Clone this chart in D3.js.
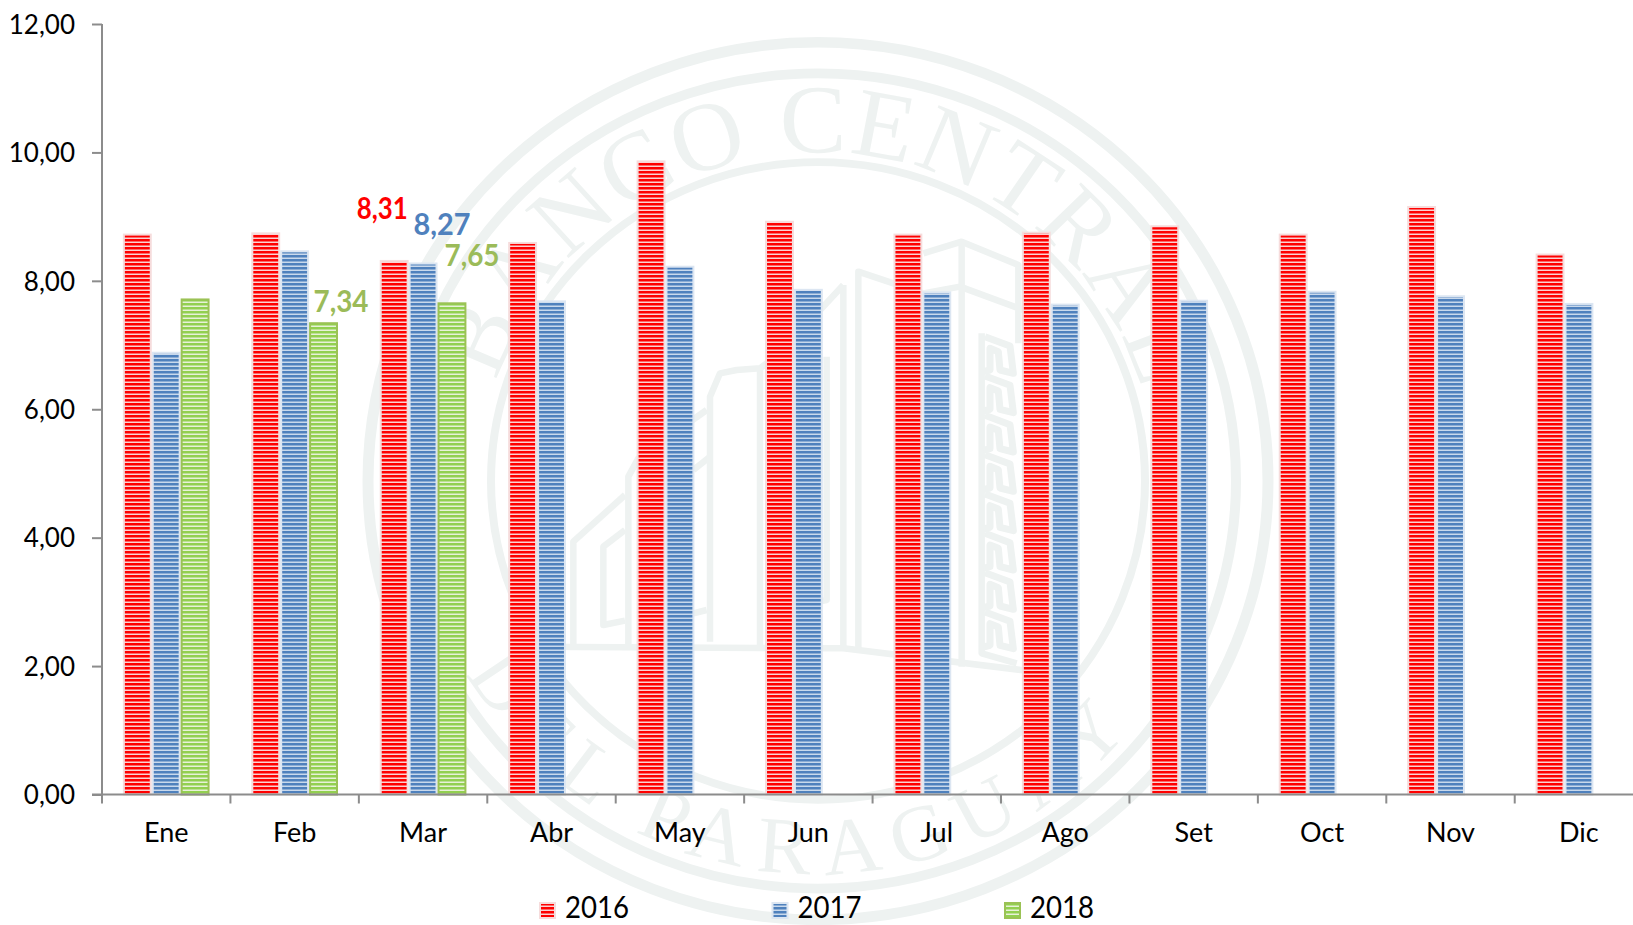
<!DOCTYPE html>
<html>
<head>
<meta charset="utf-8">
<script src="https://cdn.jsdelivr.net/npm/d3@7/dist/d3.min.js"></script>
<style>
html,body{margin:0;padding:0;background:#fff;overflow:hidden}
svg{display:block}
text{font-family:Lato,"Noto Sans",sans-serif;fill:#000}
</style>
</head>
<body>
<div id="chart"></div>
<script>
const months = ["Ene","Feb","Mar","Abr","May","Jun","Jul","Ago","Set","Oct","Nov","Dic"];
const years = ["2016","2017","2018"];
const values2016 = [8.72,8.74,8.31,8.59,9.86,8.92,8.72,8.75,8.85,8.72,9.15,8.41];
const values2017 = [6.88,8.46,8.27,7.68,8.22,7.86,7.82,7.63,7.69,7.83,7.76,7.64];
const values2018 = [7.71,7.34,7.65];
const yTicks = [0,2,4,6,8,10,12];
const labelled = [
  {year:"2016", month:"Mar", value:8.31, dx:-12, dy:-42, len:51, color:"#ff0000"},
  {year:"2017", month:"Mar", value:8.27, dx:19, dy:-28, len:57, color:"#4f81bd"},
  {year:"2018", month:"Mar", value:7.65, dx:20, dy:-37, len:55, color:"#9bbb59"},
  {year:"2018", month:"Feb", value:7.34, dx:17.5, dy:-11, len:55, color:"#9bbb59"}
];

const W = 1633, H = 925;
const svg = d3.select("#chart").append("svg").attr("width",W).attr("height",H);
svg.append("rect").attr("width",W).attr("height",H).attr("fill","#fff");

const styles = {
  "2016":{stripe:"#ff0000",gap:"#f9d3d3",edge:"#f6dcdc"},
  "2017":{stripe:"#4f81bd",gap:"#c9d9ec",edge:"#dce6f2"},
  "2018":{stripe:"#92d050",gap:"#e8f1d8",edge:"#9bc255"}
};
const defs = svg.append("defs");
years.forEach(y=>{
  const p = defs.append("pattern").attr("id","p"+y).attr("patternUnits","userSpaceOnUse")
    .attr("width",8).attr("height",4).attr("y",-1);
  p.append("rect").attr("width",8).attr("height",4).attr("fill",styles[y].gap);
  p.append("rect").attr("width",8).attr("height",2.5).attr("fill",styles[y].stripe);
});

/* ---------- watermark seal ---------- */
const wm = "#eef2f1";
const seal = svg.append("g").attr("class","seal").attr("transform","translate(818,481) scale(1,0.975)");
[[450,11],[418,10],[327,8]].forEach(([r,w])=>{
  seal.append("circle").attr("r",r)
    .attr("fill","none").attr("stroke",wm).attr("stroke-width",w);
});
const arcPt = (r,deg)=>{const a=deg*Math.PI/180;return [r*Math.sin(a),-r*Math.cos(a)];};
defs.append("path").attr("id","arcTop")
  .attr("d",`M${arcPt(337,-99)}A337,337 0 1 1 ${arcPt(337,101)}`);
defs.append("path").attr("id","arcBot")
  .attr("d",`M${arcPt(403,-101)}A403,403 0 0 0 ${arcPt(403,109)}`);
const sealText = (id,str,size,ls)=>{
  seal.append("text").attr("font-size",size).attr("letter-spacing",ls)
    .style("font-family","'Liberation Serif',serif").style("fill",wm)
    .attr("text-anchor","middle")
    .append("textPath").attr("href","#"+id).attr("startOffset","50%").text(str);
};
sealText("arcTop","BANCO CENTRAL",100,2);
sealText("arcBot","DEL PARAGUAY",82,15);

const bx = v=>560+v/3, by = v=>230+v/3;
const buildLine = d3.line().x(d=>bx(d[0])).y(d=>by(d[1]));
const buildingStrokes = [
  [[-100,1250],[850,1255],[1400,1322]],
  [[40,1245],[40,935],[195,795]],
  [[195,900],[130,950],[130,1185],[195,1172]],
  [[205,1245],[205,740],[235,685],[440,540]],
  [[400,720],[450,680]],
  [[450,1235],[450,500],[480,430],[530,420],[600,415],[660,370],[850,165]],
  [[600,1245],[600,420]],
  [[400,1150],[440,1140]],
  [[800,380],[800,1110],[760,1118]],
  [[850,165],[850,1260]],
  [[895,1260],[895,125],[1090,190],[1200,170],[1390,240]],
  [[1090,70],[1205,35],[1375,105],[1375,340]],
  [[1205,35],[1205,1310]],
  [[1265,310],[1265,1270],[1370,1300]]
];
buildingStrokes.forEach(s=>svg.append("path").attr("d",buildLine(s))
  .attr("fill","none").attr("stroke",wm).attr("stroke-width",6.5).attr("stroke-linejoin","round"));
d3.range(320,1240,118).forEach(t=>{
  svg.append("path").attr("d",buildLine([[1275,t],[1350,t+28],[1360,t+110],[1320,t+100],[1315,t+45],[1290,t+35],[1290,t+100],[1270,t+105]]))
    .attr("fill","none").attr("stroke",wm).attr("stroke-width",7).attr("stroke-linejoin","round");
});

/* ---------- scales ---------- */
const axisX = 102, step = 128.43;
const x0 = d3.scaleBand().domain(months).range([axisX,axisX+step*12])
  .paddingInner(0.325).paddingOuter(0.1625);
const x1 = d3.scaleBand().domain(years).range([0,x0.bandwidth()]);
const y = d3.scaleLinear().domain([0,12]).range([794.5,24]);

/* ---------- bars ---------- */
const series = {"2016":values2016,"2017":values2017,"2018":values2018};
years.forEach(yr=>{
  svg.append("g").selectAll("rect").data(series[yr]).join("rect")
    .attr("x",(d,i)=>x0(months[i])+x1(yr)+1)
    .attr("y",d=>y(d))
    .attr("width",x1.bandwidth()-2)
    .attr("height",d=>y(0)-y(d))
    .attr("fill",`url(#p${yr})`)
    .attr("stroke",styles[yr].edge).attr("stroke-width",2);
});

/* ---------- axes ---------- */
const axisColor = "#8c8c8c";
const fmt = d=>d3.format(".2f")(d).replace(".",",");
const gy = svg.append("g").attr("transform",`translate(${axisX},0)`)
  .call(d3.axisLeft(y).tickValues(yTicks).tickSize(10).tickPadding(17).tickFormat(fmt));
gy.selectAll("path,line").attr("stroke",axisColor).attr("stroke-width",2);
gy.select(".domain").attr("d",`M0,${y(12)}V${y(0)}`);
gy.selectAll("text").attr("font-size",26).attr("y",1).style("font-family","Lato,sans-serif").attr("fill","#000");

const gx = svg.append("g").attr("transform",`translate(0,${y(0)})`);
gx.append("line").attr("x1",axisX-10).attr("x2",W).attr("stroke",axisColor).attr("stroke-width",2);
gx.selectAll(".tk").data(d3.range(0,13)).join("line").attr("class","tk")
  .attr("x1",i=>axisX+i*step).attr("x2",i=>axisX+i*step)
  .attr("y1",0).attr("y2",9).attr("stroke",axisColor).attr("stroke-width",2);
gx.selectAll(".lb").data(months).join("text").attr("class","lb")
  .attr("x",d=>x0(d)+x0.bandwidth()/2).attr("y",47)
  .attr("text-anchor","middle").attr("font-size",27).text(d=>d);

/* ---------- data labels ---------- */
svg.append("g").selectAll("text").data(labelled).join("text")
  .attr("x",d=>x0(d.month)+x1(d.year)+x1.bandwidth()/2+d.dx)
  .attr("y",d=>y(d.value)+d.dy)
  .attr("text-anchor","middle")
  .attr("font-size",30).attr("font-weight",700)
  .attr("textLength",d=>d.len).attr("lengthAdjust","spacingAndGlyphs")
  .style("fill",d=>d.color)
  .text(d=>d.value.toFixed(2).replace(".",","));

/* ---------- legend ---------- */
const legendX = d3.scalePoint().domain(years).range([539,1004]);
const lg = svg.append("g").selectAll("g").data(years).join("g")
  .attr("transform",d=>`translate(${legendX(d)},0)`);
lg.append("rect").attr("x",1).attr("y",903).attr("width",15).attr("height",15)
  .attr("fill",d=>`url(#p${d})`).attr("stroke",d=>styles[d].edge).attr("stroke-width",2);
lg.append("text").attr("x",26).attr("y",918).attr("font-size",31)
  .attr("textLength",64).attr("lengthAdjust","spacingAndGlyphs").text(d=>d);
</script>
</body>
</html>
